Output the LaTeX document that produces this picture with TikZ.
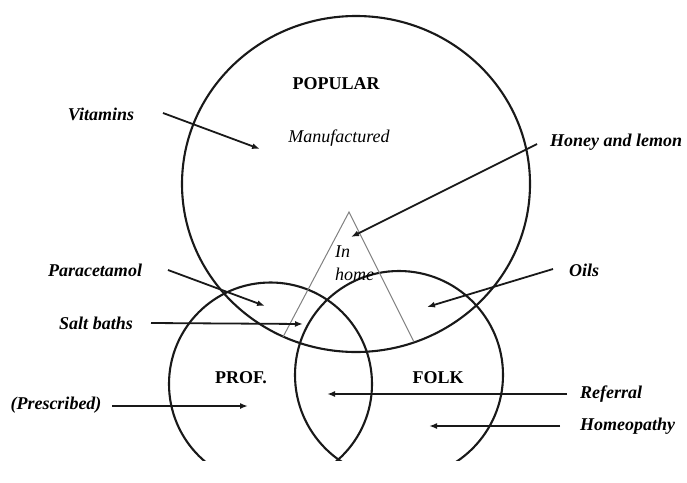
\documentclass[tikz,border=0pt]{standalone}
\usepackage{fontspec}
\setmainfont{Liberation Serif}
\usetikzlibrary{arrows.meta}
\begin{document}
\begin{tikzpicture}[x=1pt,y=-1pt,
 ring/.style={draw=black!90, line width=2.1pt},
 lab/.style={font=\fontsize{18}{21}\selectfont\bfseries\itshape, inner sep=0pt},
 head/.style={font=\fontsize{18}{21}\selectfont\bfseries, inner sep=0pt},
 plain/.style={font=\fontsize{18}{21}\selectfont\itshape, inner sep=0pt},
 ptr/.style={draw=black!90, line width=1.8pt, -{Latex[length=8pt,width=6pt]}},
 tri/.style={draw=gray, line width=1pt}]
\useasboundingbox (0,0) rectangle (687,482);
\begin{scope}
\clip (0,0) rectangle (687,460);
\draw[ring] (356,184) ellipse [x radius=174, y radius=168];
\draw[ring] (270.5,384) circle [radius=101.5];
\draw[ring] (399,375) circle [radius=104];
\end{scope}
% in-home triangle
\coordinate (apex) at (349,212);
\coordinate (triL) at (283,337);
\coordinate (triR) at (414,342);
\draw[tri] (triL) -- (apex) -- (triR);
% headings
\node[head] (popular) at (336,84) {POPULAR};
\node[plain] (manuf) at (339,138) {Manufactured};
\node[head] (prof) at (241,378) {PROF.};
\node[head] (folk) at (438,378) {FOLK};
\node[plain, anchor=west] (in) at (335,252) {In};
\node[plain, anchor=west] (home) at (335,274) {home};
% labels
\node[lab] (vit) at (101,114) {Vitamins};
\node[lab, anchor=west] (honey) at (550,142) {Honey and lemon};
\node[lab] (para) at (95,270) {Paracetamol};
\node[lab] (salt) at (96,323) {Salt baths};
\node[lab] (oils) at (584,270) {Oils};
\node[lab] (presc) at (56,405) {(Prescribed)};
\node[lab, anchor=west] (refer) at (580,394) {Referral};
\node[lab, anchor=west] (homeo) at (580,426) {Homeopathy};
% arrow ends
\coordinate (vitA) at (163,113);   \coordinate (vitB) at (260,149);
\coordinate (honA) at (537,144);   \coordinate (honB) at (351,237);
\coordinate (parA) at (168,270);   \coordinate (parB) at (265,306);
\coordinate (salA) at (151,323);   \coordinate (salB) at (303,324);
\coordinate (oilA) at (553,269);   \coordinate (oilB) at (427,307);
\coordinate (preA) at (112,406);   \coordinate (preB) at (248,406);
\coordinate (refA) at (567,394);   \coordinate (refB) at (327,394);
\coordinate (homA) at (560,426);   \coordinate (homB) at (429,426);
\draw[ptr] (vitA) -- (vitB);
\draw[ptr] (honA) -- (honB);
\draw[ptr] (parA) -- (parB);
\draw[ptr] (salA) -- (salB);
\draw[ptr] (oilA) -- (oilB);
\draw[ptr] (preA) -- (preB);
\draw[ptr] (refA) -- (refB);
\draw[ptr] (homA) -- (homB);
\end{tikzpicture}
\end{document}
